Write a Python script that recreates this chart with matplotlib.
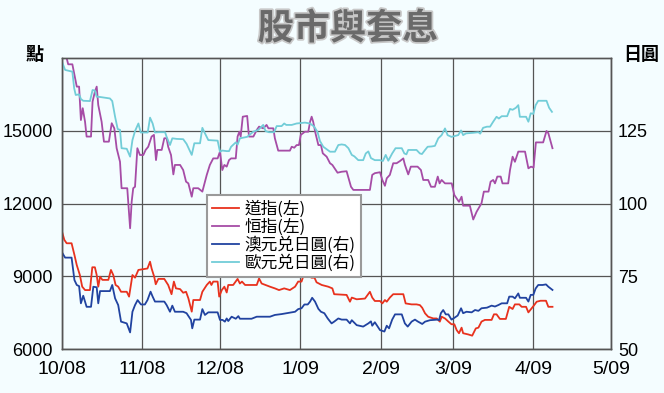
import matplotlib
matplotlib.use("Agg")
import matplotlib.pyplot as plt
import matplotlib.dates as mdates
import matplotlib.patheffects as pe
import numpy as np
from matplotlib import font_manager

# days counted from 1 Oct 2008
dow_days = [0, 0.9, 1.8, 3.7, 4.8, 5.7, 6.9, 7.8, 8.9, 10.8, 11.7, 12.7, 13.4, 14.0, 14.7, 15.6,
            17.9, 18.9, 19.8, 20.7, 21.7, 22.8, 25.0, 25.9, 27.2, 28.2, 29.5, 32.0, 33.0, 34.0,
            34.6, 35.6, 36.2, 37.2, 39.5, 41.0, 42.3, 43.2, 44.0, 45.6, 46.8, 47.9, 48.8, 50.1,
            50.7, 53.3, 54.2, 55.9, 57.1, 57.7, 58.4, 60.1, 60.7, 61.7, 62.7, 63.6, 64.2, 66.1,
            67.8, 68.7, 69.5, 70.7, 75.2, 76.1, 77.1, 80.3, 82.2, 83.8, 85.8, 88.0, 90.0, 91.2,
            92.5, 93.2, 95.1, 96.4, 97.5, 98.3, 100.3, 102.8, 104.4, 105.1, 109.9, 111.2, 111.9,
            113.8, 117.0, 118.9, 119.8, 120.8, 122.8, 123.7, 124.7, 125.4, 126.6, 127.9, 131.8,
            132.7, 135.0, 136.9, 138.2, 139.1, 140.2, 141.4, 143.4, 144.7, 145.9, 146.6, 147.9,
            149.2, 150.4, 151.5, 152.4, 153.3, 154.3, 154.9, 156.9, 158.4, 159.8, 160.8, 162.0,
            163.3, 165.9, 166.8, 167.8, 169.1, 171.4, 172.7, 174.0, 174.9, 176.6, 177.5, 179.2,
            180.1, 181.4, 182.2, 183.3, 184.8, 186.9, 187.8, 189.4]
dow = [10840, 10500, 10360, 10360, 9880, 9460, 9050, 8570, 8430, 8430, 9370, 9370, 9050, 8570,
       8980, 8850, 8850, 9260, 9050, 8640, 8570, 8360, 8360, 8160, 9050, 8940, 9260, 9300, 9320,
       9600, 9320, 8980, 8670, 8890, 8890, 8640, 8260, 8780, 8500, 8470, 8320, 8360, 8090, 7540,
       8020, 8020, 8360, 8640, 8780, 8640, 8780, 8780, 8160, 8430, 8570, 8330, 8640, 8640, 8890,
       8700, 8780, 8640, 8640, 8910, 8700, 8570, 8500, 8430, 8500, 8430, 8570, 8780, 8780, 9010,
       9010, 8940, 8940, 8750, 8640, 8570, 8500, 8260, 8230, 7950, 8120, 8050, 8080, 8360, 8120,
       7980, 7980, 7880, 8020, 7950, 8120, 8260, 8260, 7880, 7840, 7840, 7810, 7700, 7470, 7330,
       7260, 7260, 7130, 7330, 7260, 7130, 7020, 7020, 6780, 6650, 6880, 6650, 6600, 6550, 6850,
       6880, 7130, 7200, 7200, 7430, 7430, 7240, 7240, 7740, 7650, 7840, 7840, 7740, 7740, 7510,
       7680, 7790, 7950, 7990, 7990, 7740, 7740]

hsi_days = [0, 1.8, 2.4, 4.0, 4.8, 5.7, 6.6, 7.3, 8.0, 8.9, 9.5, 11.2, 11.8, 12.7, 13.4, 14.0,
            15.3, 16.2, 18.1, 19.2, 20.2, 21.1, 22.4, 23.0, 25.2, 26.3, 26.9, 27.5, 28.2, 29.1,
            30.1, 31.4, 32.3, 33.3, 34.6, 35.5, 36.3, 36.8, 38.5, 39.5, 40.4, 41.0, 42.1, 43.0,
            43.6, 45.6, 46.8, 47.9, 48.8, 50.1, 50.7, 52.6, 54.2, 55.9, 57.1, 58.4, 60.1, 61.0,
            61.9, 62.7, 63.6, 64.5, 65.3, 67.1, 67.8, 68.5, 69.0, 69.8, 71.5, 72.2, 73.9, 75.2,
            76.1, 77.7, 79.0, 79.7, 81.6, 82.2, 83.5, 88.0, 88.7, 89.7, 90.6, 91.5, 92.2, 93.8,
            95.1, 95.8, 96.4, 97.0, 97.9, 99.0, 100.0, 100.7, 102.2, 103.5, 104.4, 106.4, 108.0,
            109.9, 111.6, 112.5, 118.9, 119.8, 120.8, 122.8, 123.7, 124.7, 125.4, 126.6, 127.9,
            129.2, 130.5, 131.8, 132.4, 133.7, 134.7, 137.3, 138.6, 139.5, 141.4, 142.5, 144.0,
            145.1, 145.8, 146.6, 147.9, 150.5, 151.5, 152.4, 153.3, 154.3, 154.9, 157.5, 158.8,
            160.1, 162.0, 162.9, 164.7, 165.5, 166.5, 167.2, 168.1, 169.4, 170.1, 172.3, 173.0,
            174.0, 174.9, 176.2, 178.8, 180.1, 181.1, 182.1, 183.0, 185.8, 187.1, 187.8, 189.4]
hsi = [18050, 17990, 17740, 17740, 17300, 16820, 16820, 15440, 15930, 15370, 14760, 14760, 16200,
       16610, 16820, 16060, 15370, 14550, 14550, 15310, 15100, 14280, 13720, 12630, 12630, 10980,
       12070, 12630, 12690, 14280, 14000, 14000, 14210, 14340, 14760, 14830, 13790, 14210, 14210,
       14690, 14690, 14340, 14000, 13200, 13590, 13590, 13380, 12900, 12830, 12280, 12630, 12630,
       12490, 13180, 13590, 13860, 13860, 14140, 13380, 13590, 13520, 13790, 13860, 13860, 14760,
       14960, 14760, 15580, 15610, 14760, 14760, 15030, 15170, 15100, 15240, 15100, 15100, 14690,
       14180, 14180, 14340, 14300, 14410, 14410, 14830, 14960, 14960, 15370, 15580, 15370, 14890,
       14410, 14410, 14070, 13930, 13660, 13590, 13270, 13310, 13330, 12690, 12560, 12560, 13180,
       13250, 13290, 12970, 12730, 13040, 13180, 13660, 13660, 13750, 13860, 13600, 13200, 13520,
       13520, 13380, 12970, 12970, 12690, 12690, 13110, 12830, 12970, 12830, 12830, 12350, 12210,
       12070, 12280, 11910, 11910, 11340, 11660, 12010, 12490, 12490, 12900, 12970, 12830, 13110,
       13110, 12830, 12830, 13380, 13930, 13720, 14140, 14140, 13450, 13520, 13480, 14520, 14520,
       14990, 14900, 14280]

aud_days = [0, 1.2, 3.7, 4.8, 5.7, 6.6, 7.3, 8.2, 9.5, 11.2, 12.1, 13.4, 14.0, 14.7, 18.5, 19.4,
            20.5, 21.7, 22.8, 25.0, 26.3, 27.2, 28.2, 29.2, 30.5, 32.0, 33.0, 34.2, 35.0, 35.9,
            39.5, 40.4, 41.7, 42.6, 43.6, 46.8, 48.1, 49.8, 50.3, 51.1, 53.3, 54.2, 55.2, 56.5,
            60.1, 61.0, 62.0, 62.9, 63.6, 64.2, 65.5, 67.1, 68.1, 68.7, 73.2, 75.2, 80.3, 82.2,
            84.8, 86.8, 88.7, 90.0, 91.2, 92.5, 93.6, 94.9, 95.8, 96.6, 97.7, 99.0, 100.0, 101.3,
            102.6, 104.1, 105.1, 106.7, 108.0, 109.9, 111.2, 111.9, 113.8, 116.3, 118.3, 119.3,
            119.8, 120.8, 122.8, 124.5, 125.4, 126.3, 127.5, 128.6, 131.2, 132.4, 133.5, 135.0,
            136.3, 137.3, 139.1, 140.2, 142.1, 145.1, 145.6, 146.3, 147.2, 148.2, 149.2, 150.4,
            151.5, 152.8, 154.1, 154.9, 156.2, 158.2, 159.5, 160.8, 162.0, 164.1, 165.9, 167.2,
            168.5, 169.8, 171.9, 172.7, 174.0, 174.9, 176.2, 176.8, 179.2, 180.1, 181.0, 182.0,
            182.9, 183.9, 185.6, 186.9, 187.8, 189.4]
audjpy = [83.2, 81.4, 81.4, 73.7, 72.0, 71.6, 65.7, 68.3, 64.5, 64.5, 71.4, 71.2, 65.7, 69.9,
          69.9, 72.0, 67.4, 65.1, 59.4, 58.8, 55.7, 62.8, 65.1, 66.8, 65.3, 65.3, 66.8, 69.7,
          68.0, 66.3, 66.3, 65.1, 62.8, 64.9, 62.8, 62.8, 62.3, 60.0, 57.1, 60.1, 60.1, 63.7,
          61.7, 62.6, 62.6, 60.0, 60.0, 59.4, 60.5, 59.6, 61.1, 60.4, 61.3, 60.4, 60.4, 61.1,
          61.1, 61.7, 62.0, 62.3, 62.6, 62.8, 63.7, 64.0, 65.3, 65.3, 66.3, 67.6, 66.3, 63.8,
          62.8, 62.3, 60.5, 58.8, 59.4, 60.5, 60.1, 60.1, 58.8, 59.9, 58.2, 57.7, 58.8, 59.5,
          58.0, 59.2, 56.5, 56.0, 58.0, 57.1, 60.1, 61.9, 61.9, 58.8, 57.7, 59.4, 60.1, 59.5,
          58.6, 59.4, 59.9, 60.1, 59.9, 62.3, 63.4, 61.9, 61.9, 60.1, 60.7, 61.5, 64.0, 62.3,
          62.8, 62.6, 63.4, 63.1, 64.0, 64.2, 64.9, 64.6, 65.1, 65.7, 65.7, 68.0, 68.0, 67.4,
          69.1, 67.6, 67.6, 66.3, 68.6, 68.6, 70.8, 72.0, 72.0, 72.2, 71.4, 70.3]

eur_days = [0, 1.2, 4.0, 4.7, 5.3, 6.6, 7.3, 8.2, 10.8, 11.8, 12.7, 13.4, 14.7, 18.5, 19.4, 20.5,
            21.5, 22.4, 23.0, 25.0, 26.3, 27.2, 28.2, 29.5, 30.4, 33.1, 34.0, 35.0, 35.9, 37.2,
            39.8, 40.4, 41.7, 42.6, 44.3, 46.8, 48.1, 50.1, 51.1, 53.3, 54.2, 55.2, 56.5, 60.1,
            61.0, 61.9, 63.6, 64.5, 65.3, 67.1, 67.8, 68.7, 71.5, 73.9, 75.8, 77.7, 78.6, 79.9,
            81.9, 82.9, 84.8, 85.8, 86.6, 88.7, 90.6, 93.8, 95.8, 97.4, 98.7, 99.6, 100.9, 103.5,
            105.4, 106.7, 108.0, 109.3, 110.6, 111.9, 112.9, 114.4, 116.3, 117.3, 118.3, 119.3,
            120.8, 122.8, 123.9, 125.0, 126.0, 127.5, 128.8, 131.2, 132.2, 133.0, 133.7, 136.9,
            138.2, 139.0, 140.2, 141.2, 142.7, 144.0, 145.3, 146.6, 147.9, 148.9, 150.4, 153.0,
            154.1, 154.9, 156.0, 158.8, 160.8, 161.5, 162.6, 164.1, 165.3, 166.5, 167.8, 168.7,
            169.8, 171.9, 173.0, 174.0, 175.3, 176.2, 176.8, 179.2, 180.1, 181.0, 182.0, 182.9,
            183.9, 187.1, 188.1, 189.2]
eurjpy = [148.7, 145.9, 145.3, 139.6, 137.3, 137.5, 135.9, 135.3, 135.2, 139.0, 138.8, 136.7,
          136.6, 136.1, 135.2, 129.8, 125.6, 125.3, 119.0, 118.8, 116.1, 121.8, 124.9, 127.5,
          124.4, 124.4, 129.5, 127.5, 124.4, 124.5, 124.5, 122.9, 120.1, 122.4, 122.2, 122.1,
          120.5, 116.7, 120.7, 120.7, 126.0, 124.1, 121.8, 121.6, 117.8, 118.2, 118.0, 118.0,
          119.5, 121.0, 120.2, 122.4, 122.9, 124.7, 125.3, 127.0, 124.9, 124.5, 124.5, 126.6,
          126.6, 127.5, 127.0, 127.0, 127.5, 127.8, 127.5, 126.4, 124.5, 121.5, 119.5, 117.8,
          117.8, 120.1, 120.3, 120.1, 119.0, 116.7, 116.2, 114.9, 114.9, 117.2, 117.9, 115.6,
          114.9, 114.9, 114.6, 116.7, 114.7, 117.2, 119.0, 119.0, 117.2, 116.9, 118.4, 118.4,
          117.2, 117.0, 118.4, 119.5, 119.6, 119.8, 122.4, 123.5, 125.8, 123.5, 122.9, 123.5,
          125.1, 123.5, 124.1, 124.3, 124.5, 124.0, 126.0, 126.4, 126.4, 128.1, 129.8, 129.2,
          130.0, 130.0, 132.5, 132.2, 132.9, 133.8, 129.8, 129.8, 128.1, 131.0, 130.8, 133.8,
          135.3, 135.3, 132.9, 131.5]

month_starts = ["2008-10-01", "2008-11-01", "2008-12-01", "2009-01-01",
                "2009-02-01", "2009-03-01", "2009-04-01", "2009-05-01"]
month_labels = ["10/08", "11/08", "12/08", "1/09", "2/09", "3/09", "4/09", "5/09"]
left_ticks = [6000, 9000, 12000, 15000]
right_ticks = [50, 75, 100, 125]
labels = ["道指(左)", "恒指(左)", "澳元兑日圓(右)", "歐元兑日圓(右)"]

names = {f.name for f in font_manager.fontManager.ttflist}
if "Liberation Sans Narrow" in names:
    num_font, ytick_size, xtick_size = "Liberation Sans Narrow", 15.5, 17
else:
    num_font, ytick_size, xtick_size = "Liberation Sans", 13, 14
cjk = "Noto Sans CJK TC"

BG = "#f4fdff"
GRID = "#555555"

fig = plt.figure(figsize=(6.64, 3.93), dpi=100, facecolor=BG)
ax = fig.add_axes([62 / 664, 44 / 393, 549 / 664, 291 / 393])
ax.set_facecolor(BG)
ax2 = ax.twinx()

base = mdates.date2num(np.datetime64("2008-10-01"))
l1, = ax.plot(base + np.array(dow_days), dow, color="#e8321e", lw=1.3)
l2, = ax.plot(base + np.array(hsi_days), hsi, color="#a64ca6", lw=1.3)
l3, = ax2.plot(base + np.array(aud_days), audjpy, color="#2143a0", lw=1.3)
l4, = ax2.plot(base + np.array(eur_days), eurjpy, color="#72cdd8", lw=1.3)

ticks = [mdates.date2num(np.datetime64(m)) for m in month_starts]
ax.set_xlim(ticks[0], ticks[-1])
ax.set_xticks(ticks)
ax.set_xticklabels(month_labels, family=num_font, fontsize=xtick_size)
ax.set_ylim(6000, 18000)
ax.set_yticks(left_ticks)
ax.set_yticklabels([str(v) for v in left_ticks], family=num_font, fontsize=ytick_size)
ax2.set_ylim(50, 150)
ax2.set_yticks(right_ticks)
ax2.set_yticklabels([str(v) for v in right_ticks], family=num_font, fontsize=ytick_size)

ax.grid(True, color=GRID, lw=0.9)
ax.tick_params(axis="x", length=0, pad=9)
ax.tick_params(axis="y", length=0, pad=6.5)
ax2.tick_params(axis="y", length=0, pad=5)
for a in (ax, ax2):
    for s in a.spines.values():
        s.set_color(GRID)
        s.set_linewidth(1)

leg = ax2.legend([l1, l2, l3, l4], labels, loc="upper left",
                 bbox_to_anchor=((207 - 62) / 549, (349 - 195) / 291),
                 prop={"family": cjk, "size": 12}, handlelength=1.6, handletextpad=0.35,
                 labelspacing=0.05, borderpad=0.3, borderaxespad=0, fancybox=False,
                 edgecolor="#9a9a9a", framealpha=1, facecolor="white")
leg.get_frame().set_linewidth(1.5)
leg.set_zorder(10)

fig.text(348 / 664, 1 - 29 / 393, "股市與套息", fontsize=26, weight="bold", color="#6a6a6a",
         family=cjk, ha="center", va="center",
         path_effects=[pe.withStroke(linewidth=2.5, foreground="#c8c8c8")])
fig.text(35 / 664, 1 - 55 / 393, "點", fontsize=13, weight="bold", family=cjk,
         ha="center", va="center")
fig.text(641 / 664, 1 - 55 / 393, "日圓", fontsize=13, weight="bold", family=cjk,
         ha="center", va="center")

fig.savefig("out.png", dpi=100, facecolor=BG)
